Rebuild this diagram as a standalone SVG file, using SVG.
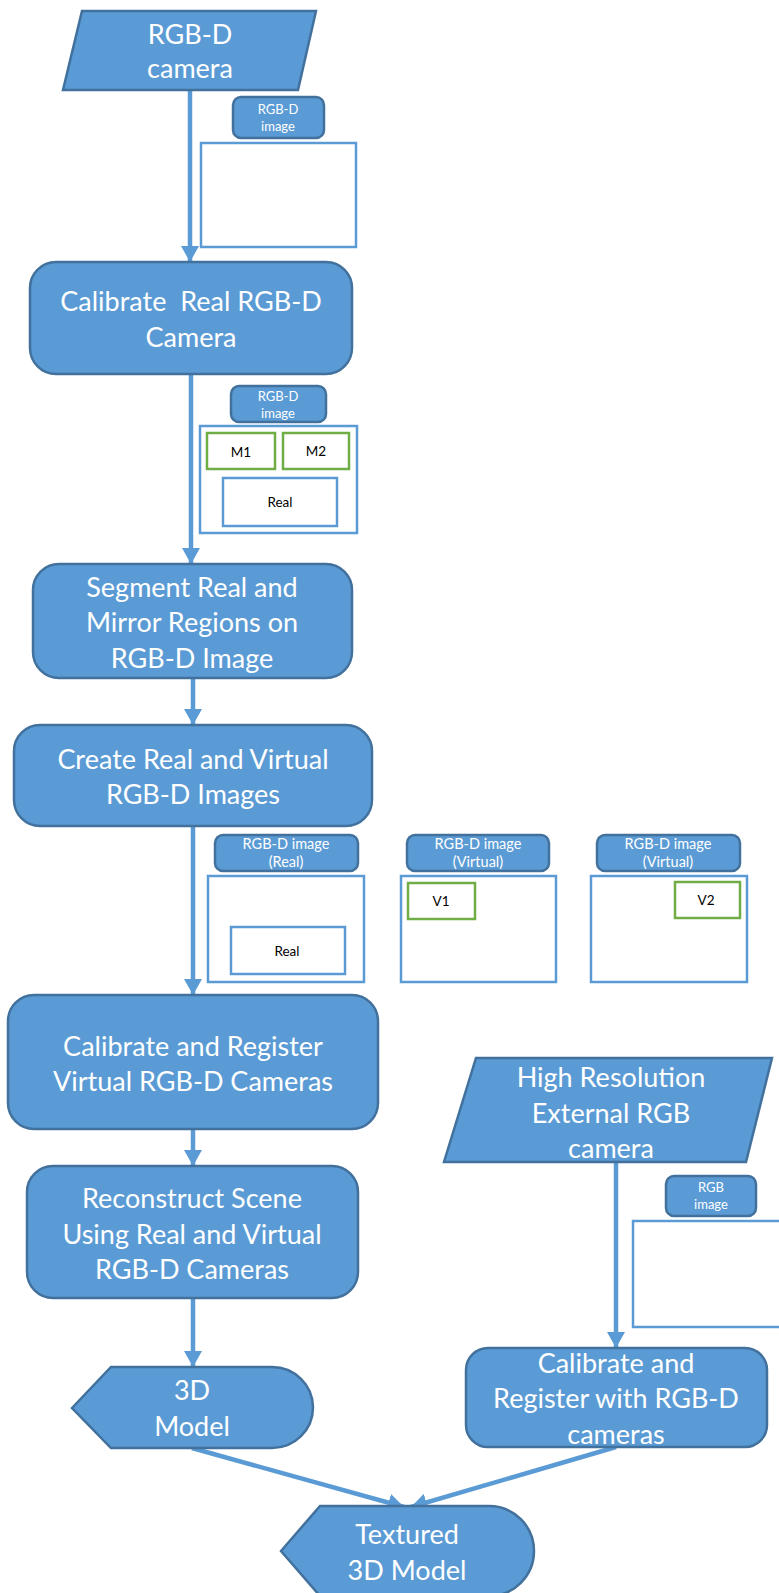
<svg xmlns="http://www.w3.org/2000/svg" width="779" height="1593" viewBox="0 0 779 1593">
<defs>
<style>
.node{fill:#5B9BD5;stroke:#41719C;stroke-width:2.5}
.lbl{fill:#5B9BD5;stroke:#41719C;stroke-width:2.5}
.img{fill:#FFFFFF;stroke:#5B9BD5;stroke-width:2.5}
.reg{fill:#FFFFFF;stroke:#70AD47;stroke-width:2.5}
.t{font-family:Lato,"Liberation Sans",sans-serif;font-size:27px;fill:#FFFFFF;text-anchor:middle}
.s{font-family:Lato,"Liberation Sans",sans-serif;font-size:13px;fill:#FFFFFF;text-anchor:middle}
.s2{font-family:Lato,"Liberation Sans",sans-serif;font-size:14.5px;fill:#FFFFFF;text-anchor:middle}
.b{font-family:Lato,"Liberation Sans",sans-serif;font-size:13.5px;fill:#000000;text-anchor:middle}
.c{stroke:#5B9BD5;stroke-width:4.5;fill:none}
</style>
<marker id="ah" viewBox="0 0 16 18" refX="16" refY="9" markerWidth="16" markerHeight="18" markerUnits="userSpaceOnUse" orient="auto">
<path d="M0,0 L16,9 L0,18 Z" fill="#5B9BD5"/>
</marker>
</defs>

<g id="connectors">
<line class="c" x1="190" y1="90" x2="190" y2="262" marker-end="url(#ah)"/>
<line class="c" x1="191" y1="374" x2="191" y2="564" marker-end="url(#ah)"/>
<line class="c" x1="193" y1="678" x2="193" y2="725" marker-end="url(#ah)"/>
<line class="c" x1="193" y1="826" x2="193" y2="995" marker-end="url(#ah)"/>
<line class="c" x1="193" y1="1129" x2="193" y2="1166" marker-end="url(#ah)"/>
<line class="c" x1="193" y1="1298" x2="193" y2="1367" marker-end="url(#ah)"/>
<line class="c" x1="616" y1="1162" x2="616" y2="1348" marker-end="url(#ah)"/>
<line class="c" x1="192" y1="1448" x2="404" y2="1507" marker-end="url(#ah)"/>
<line class="c" x1="616" y1="1447" x2="411" y2="1507" marker-end="url(#ah)"/>
</g>

<g id="rgbd-camera">
<polygon class="node" points="82,11 316,11 298,90 63,90"/>
<text class="t" x="190" y="44">RGB-D</text>
<text class="t" x="190" y="78">camera</text>
</g>

<g id="rgbd-image-1">
<rect class="lbl" x="233" y="97" width="91" height="41" rx="8"/>
<text class="s" x="278" y="114">RGB-D</text>
<text class="s" x="278" y="131">image</text>
<rect class="img" x="201" y="143" width="155" height="104"/>
</g>

<g id="calibrate-real">
<rect class="node" x="30" y="262" width="322" height="112" rx="26"/>
<text class="t" x="191" y="311" xml:space="preserve">Calibrate  Real RGB-D</text>
<text class="t" x="191" y="347">Camera</text>
</g>

<g id="rgbd-image-2">
<rect class="lbl" x="231" y="386" width="95" height="36" rx="8"/>
<text class="s" x="278" y="401">RGB-D</text>
<text class="s" x="278" y="418">image</text>
<rect class="img" x="200" y="426" width="157" height="107"/>
<rect class="reg" x="207" y="433" width="68" height="36"/>
<text class="b" x="241" y="457">M1</text>
<rect class="reg" x="283" y="433" width="66" height="36"/>
<text class="b" x="316" y="456">M2</text>
<rect class="img" x="223" y="478" width="114" height="48"/>
<text class="b" x="280" y="507">Real</text>
</g>

<g id="segment">
<rect class="node" x="33" y="564" width="319" height="114" rx="26"/>
<text class="t" x="192" y="597">Segment Real and</text>
<text class="t" x="192" y="632">Mirror Regions on</text>
<text class="t" x="192" y="668">RGB-D Image</text>
</g>

<g id="create-images">
<rect class="node" x="14" y="725" width="358" height="101" rx="26"/>
<text class="t" x="193" y="769">Create Real and Virtual</text>
<text class="t" x="193" y="804">RGB-D Images</text>
</g>

<g id="image-real">
<rect class="lbl" x="215" y="835" width="143" height="36" rx="8"/>
<text class="s2" x="286" y="849">RGB-D image</text>
<text class="s2" x="286" y="867">(Real)</text>
<rect class="img" x="208" y="876" width="156" height="106"/>
<rect class="img" x="231" y="927" width="114" height="47"/>
<text class="b" x="287" y="956">Real</text>
</g>

<g id="image-virtual-1">
<rect class="lbl" x="407" y="835" width="142" height="36" rx="8"/>
<text class="s2" x="478" y="849">RGB-D image</text>
<text class="s2" x="478" y="867">(Virtual)</text>
<rect class="img" x="401" y="876" width="155" height="106"/>
<rect class="reg" x="408" y="883" width="67" height="36"/>
<text class="b" x="441" y="906">V1</text>
</g>

<g id="image-virtual-2">
<rect class="lbl" x="597" y="835" width="143" height="36" rx="8"/>
<text class="s2" x="668" y="849">RGB-D image</text>
<text class="s2" x="668" y="867">(Virtual)</text>
<rect class="img" x="591" y="876" width="156" height="106"/>
<rect class="reg" x="675" y="882" width="65" height="36"/>
<text class="b" x="706" y="905">V2</text>
</g>

<g id="calibrate-register-virtual">
<rect class="node" x="8" y="995" width="370" height="134" rx="26"/>
<text class="t" x="193" y="1056">Calibrate and Register</text>
<text class="t" x="193" y="1091">Virtual RGB-D Cameras</text>
</g>

<g id="external-camera">
<polygon class="node" points="476,1058 772,1058 746,1162 444,1162"/>
<text class="t" x="611" y="1087">High Resolution</text>
<text class="t" x="611" y="1123">External RGB</text>
<text class="t" x="611" y="1158">camera</text>
</g>

<g id="rgb-image">
<rect class="lbl" x="666" y="1176" width="90" height="40" rx="8"/>
<text class="s" x="711" y="1192">RGB</text>
<text class="s" x="711" y="1209">image</text>
<rect class="img" x="633" y="1221" width="160" height="106"/>
</g>

<g id="reconstruct">
<rect class="node" x="27" y="1166" width="331" height="132" rx="26"/>
<text class="t" x="192" y="1208">Reconstruct Scene</text>
<text class="t" x="192" y="1244">Using Real and Virtual</text>
<text class="t" x="192" y="1279">RGB-D Cameras</text>
</g>

<g id="calibrate-register-rgb">
<rect class="node" x="466" y="1348" width="301" height="99" rx="22"/>
<text class="t" x="616" y="1373">Calibrate and</text>
<text class="t" x="616" y="1408">Register with RGB-D</text>
<text class="t" x="616" y="1444">cameras</text>
</g>

<g id="model-3d">
<path class="node" d="M72,1408 L111,1367 L272,1367 A41,40.5 0 0 1 272,1448 L111,1448 Z"/>
<text class="t" x="192" y="1400">3D</text>
<text class="t" x="192" y="1436">Model</text>
</g>

<g id="textured-model">
<path class="node" d="M281,1551 L320,1506 L489,1506 A45,45 0 0 1 489,1596 L320,1596 Z"/>
<text class="t" x="407" y="1544">Textured</text>
<text class="t" x="407" y="1580">3D Model</text>
</g>
</svg>
